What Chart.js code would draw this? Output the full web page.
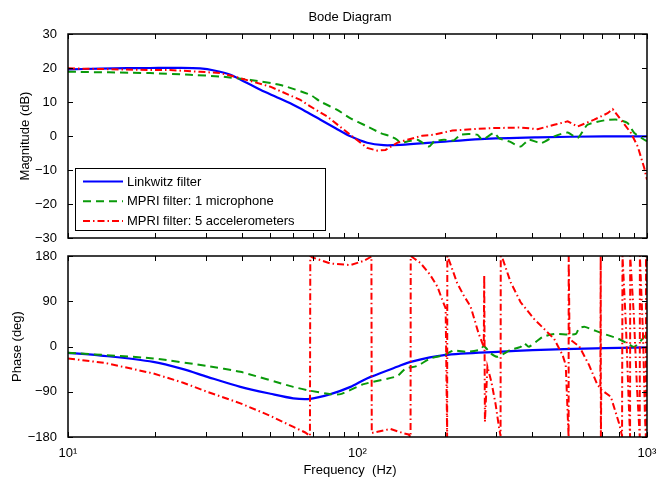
<!DOCTYPE html>
<html>
<head>
<meta charset="utf-8">
<script src="https://cdn.jsdelivr.net/npm/chart.js@4.4.1/dist/chart.umd.min.js"></script>
<style>
  html, body { margin: 0; padding: 0; background: #fff; }
  #wrap { position: relative; width: 659px; height: 479px; }
  canvas { position: absolute; left: 0; }
  #magChart { top: 0; }
  #phaseChart { top: 250px; }
</style>
</head>
<body>
<div id="wrap">
  <canvas id="magChart" width="659" height="250"></canvas>
  <canvas id="phaseChart" width="659" height="229"></canvas>
</div>
<script>
// values, frequency in Hz
const seriesNames = ["Linkwitz filter", "MPRI filter: 1 microphone", "MPRI filter: 5 accelerometers"];

const linkwitzMagFreq = [10, 12.9, 16, 19.2, 24, 28.6, 32.3, 36.4, 40.9, 46.2, 52, 58.6, 66, 74.5, 84, 94.6, 108, 123, 141, 184, 266, 419, 710, 1000];
const linkwitzMag = [19.6, 19.8, 19.95, 20.0, 20.05, 19.9, 19.2, 18.0, 15.9, 13.6, 11.6, 9.6, 7.3, 4.8, 2.3, -0.1, -2.0, -2.7, -2.6, -1.9, -0.9, -0.4, -0.1, -0.1];

const micMagFreq = [10, 19.2, 26.4, 33.6, 42.7, 54.2, 68.7, 74.5, 85.1, 94.6, 107, 120, 130, 137, 141, 148.6, 161, 176.6, 184, 199, 215, 227, 259, 270, 296, 308, 334, 366, 391, 430, 478, 532, 576, 623, 712, 792, 857, 904, 979, 1000];
const micMag = [18.9, 18.5, 18.0, 17.5, 16.5, 15.0, 12.1, 10.1, 7.7, 5.2, 3.0, 0.9, -0.1, -1.1, -2.1, -1.6, -1.1, -3.1, -1.6, -1.1, -1.3, 0.4, 0.4, -1.1, 0.9, -0.6, -1.6, -3.1, -1.1, -2.1, -0.1, 1.0, -0.6, 3.3, 4.6, 4.8, 3.8, 0.9, -1.1, -1.5];

const accelMagFreq = [10, 19.2, 22.5, 28.6, 33.6, 39.4, 50, 63.5, 68.7, 78.7, 94.6, 108, 117, 125, 137, 144.5, 167.5, 184, 212.7, 249.5, 288.6, 366, 419, 478, 532, 576, 657, 731, 761, 812, 880, 929, 979, 1000];
const accelMag = [19.9, 19.4, 19.4, 18.9, 18.5, 17.0, 14.5, 10.6, 8.7, 5.7, 0.3, -3.5, -4.3, -4.1, -2.0, -1.4, 0.1, 0.4, 1.6, 2.0, 2.3, 2.5, 2.0, 3.3, 4.3, 2.8, 4.8, 6.7, 7.9, 4.8, 0.9, -3.1, -9.5, -12.9];

const linkwitzPhaseFreq = [10, 13, 19.7, 25, 30.3, 39.4, 50, 60, 68.7, 80.7, 94.6, 104.8, 111, 137, 152.7, 199, 305, 516, 1000];
const linkwitzPhase = [-12.5, -18, -30.5, -45, -60.4, -80.3, -94, -103, -104, -94.8, -80.3, -67, -60.4, -40.4, -30.5, -17.1, -10.6, -5.2, -1.7];

const micPhaseFreq = [10, 19.7, 30.3, 39.4, 60, 68.7, 80.7, 87.4, 105, 137, 146.6, 160, 179, 199, 215, 240, 266, 273, 289, 305, 338, 366, 376, 391, 435, 478, 532, 568, 583, 610, 693, 792, 857, 904, 979, 1000];
const micPhase = [-12.5, -23.7, -39, -50.4, -80.3, -88, -94.8, -94.8, -74.9, -59, -43.7, -39, -23.7, -17.1, -8, -10.6, -6, 1, -14, -20.5, -6.5, -0.6, 7, -0.6, 18.7, 25, 24, 25, 36.7, 39, 27, 16, 6, -0.6, 19.3, 26];

// phase wraps at +/-180 are kept as consecutive samples
const accelPhaseFreq = [10, 13.5, 19.7, 25, 30.3, 39.4, 50, 60.1, 66, 68.5, 68.7, 70, 80.7, 94.6, 104.8, 111, 111.7, 112, 123, 130, 145, 150, 152.5, 152.7, 157, 165, 178, 188.8, 196.5, 201.6, 204, 204.3, 207, 221, 232.5, 246, 262, 273, 274, 275.5, 281, 290, 300, 308, 312, 312.5, 317, 338, 366, 407, 478, 511, 524, 536, 536.5, 540, 583.6, 631, 675, 690, 692, 693, 695, 750, 801, 820, 823, 846, 866, 874, 875, 901, 923, 944, 945, 968, 984, 991, 992, 1000];
const accelPhase = [-23.7, -33, -53.6, -72, -90.2, -113, -138, -160, -171, -178, 180, 177, 165, 162, 170, 178, 179, -172, -167, -164, -173, -175, -180, 180, 175, 166, 143, 119, 92, 76, -180, 180, 172, 126, 102, 79, 26, -1, 142, -150, -40, -70, -115, -160, -178, 180, 175, 128, 88, 55, 15, -17, -37, -180, 180, 15, 0, -37, -77, -82, 180, -180, -86, -100, -153, -178, 180, 40, -120, -180, 180, 60, -80, -180, 180, 30, -140, -180, 180, 120];

const magTicks = [-30, -20, -10, 0, 10, 20, 30];
const phaseTicks = [-180, -90, 0, 90, 180];
const decadeLabels = { 10: "10\u00B9", 100: "10\u00B2", 1000: "10\u00B3" };

const pts = (xs, ys) => xs.map((x, i) => ({ x: x, y: ys[i] }));
const minus = v => (v < 0 ? "\u2212" + Math.abs(v) : String(v));

const FONT = '"Liberation Sans", Arial, Helvetica, sans-serif';
Chart.defaults.font.family = FONT;
Chart.defaults.font.size = 13;
Chart.defaults.color = "#000";

const styles = [
  { borderColor: "#0000ff", borderWidth: 2.2, borderDash: [], order: 2, tension: 0.3 },
  { borderColor: "#0a9a0a", borderWidth: 2, borderDash: [8, 5], order: 1, tension: 0.2 },
  { borderColor: "#ff0000", borderWidth: 2, borderDash: [7, 3, 1.5, 3], order: 0, tension: 0 }
];

function makeSets(list) {
  return list.map((d, i) => Object.assign({
    label: seriesNames[i],
    data: d,
    pointRadius: 0,
    fill: false
  }, styles[i]));
}

// no extra room for half labels: the axes box is fixed
const noPad = s => { s.paddingTop = 0; s.paddingBottom = 0; s.paddingLeft = 0; s.paddingRight = 0; };

// box, inward ticks and free text in MATLAB style
const matlabAxes = {
  id: "matlabAxes",
  afterDatasetsDraw(chart, args, opts) {
    const { ctx, chartArea: a } = chart;
    const x = chart.scales.x, y = chart.scales.y;
    const tl = 5;
    ctx.save();
    ctx.strokeStyle = "#000";
    ctx.lineWidth = 1;
    ctx.setLineDash([]);
    ctx.beginPath();
    for (let d = 10; d <= 1000; d *= 10) {
      for (let m = 1; m < 10; m++) {
        const v = d * m;
        if (v > 1000) break;
        const px = Math.round(x.getPixelForValue(v)) + 0.5;
        ctx.moveTo(px, a.top); ctx.lineTo(px, a.top + tl);
        ctx.moveTo(px, a.bottom); ctx.lineTo(px, a.bottom - tl);
      }
    }
    for (const v of opts.yTicks) {
      const py = Math.round(y.getPixelForValue(v)) + 0.5;
      ctx.moveTo(a.left, py); ctx.lineTo(a.left + tl, py);
      ctx.moveTo(a.right, py); ctx.lineTo(a.right - tl, py);
    }
    ctx.stroke();
    ctx.lineWidth = 1.5;
    ctx.strokeRect(a.left, a.top, a.right - a.left, a.bottom - a.top);
    ctx.fillStyle = "#000";
    ctx.font = "13px " + FONT;
    ctx.textAlign = "center";
    ctx.textBaseline = "middle";
    for (const t of opts.texts || []) ctx.fillText(t.text, t.x, t.y);
    ctx.restore();
  }
};

// legend box drawn inside the axes
const boxLegend = {
  id: "boxLegend",
  afterDraw(chart, args, opts) {
    if (!opts.show) return;
    const { ctx } = chart;
    const sets = chart.data.datasets;
    ctx.save();
    ctx.fillStyle = "#fff";
    ctx.fillRect(opts.left, opts.top, opts.width, opts.height);
    ctx.strokeStyle = "#000";
    ctx.lineWidth = 1;
    ctx.strokeRect(opts.left + 0.5, opts.top + 0.5, opts.width, opts.height);
    ctx.font = "13px " + FONT;
    ctx.textBaseline = "middle";
    ctx.textAlign = "left";
    sets.forEach((s, i) => {
      const yy = opts.top + opts.firstRow + i * opts.rowH;
      ctx.strokeStyle = s.borderColor;
      ctx.lineWidth = s.borderWidth;
      ctx.setLineDash(s.borderDash || []);
      ctx.beginPath();
      ctx.moveTo(opts.left + 8, yy);
      ctx.lineTo(opts.left + 48, yy);
      ctx.stroke();
      ctx.setLineDash([]);
      ctx.fillStyle = "#000";
      ctx.fillText(s.label, opts.left + 52, yy + 0.5);
    });
    ctx.restore();
  }
};

function logX(extra) {
  return Object.assign({
    type: "logarithmic",
    min: 10,
    max: 1000,
    grid: { display: false, drawTicks: false },
    border: { display: false }
  }, extra);
}

new Chart(document.getElementById("magChart"), {
  type: "line",
  data: {
    datasets: makeSets([
      pts(linkwitzMagFreq, linkwitzMag),
      pts(micMagFreq, micMag),
      pts(accelMagFreq, accelMag)
    ])
  },
  options: {
    responsive: false,
    animation: false,
    events: [],
    layout: { padding: { top: 34, right: 12, left: 0, bottom: 0 } },
    plugins: {
      legend: { display: false },
      tooltip: { enabled: false },
      matlabAxes: { yTicks: magTicks, texts: [{ text: "Bode Diagram", x: 350, y: 17 }] },
      boxLegend: { show: true, left: 75, top: 168, width: 250, height: 62, firstRow: 13.5, rowH: 19.75 }
    },
    scales: {
      x: logX({ ticks: { display: false }, afterFit: s => { s.height = 12; noPad(s); } }),
      y: {
        min: -30, max: 30,
        afterBuildTicks: s => { s.ticks = magTicks.map(v => ({ value: v })); },
        ticks: { padding: 11, callback: v => minus(v) },
        grid: { display: false, drawTicks: false },
        border: { display: false },
        title: { display: true, text: "Magnitude (dB)", padding: { top: 18, bottom: 0 } },
        afterFit: s => { s.width = 68; noPad(s); }
      }
    }
  },
  plugins: [matlabAxes, boxLegend]
});

new Chart(document.getElementById("phaseChart"), {
  type: "line",
  data: {
    datasets: makeSets([
      pts(linkwitzPhaseFreq, linkwitzPhase),
      pts(micPhaseFreq, micPhase),
      pts(accelPhaseFreq, accelPhase)
    ])
  },
  options: {
    responsive: false,
    animation: false,
    events: [],
    layout: { padding: { top: 6, right: 12, left: 0, bottom: 0 } },
    plugins: {
      legend: { display: false },
      tooltip: { enabled: false },
      matlabAxes: { yTicks: phaseTicks, texts: [{ text: "Frequency  (Hz)", x: 350, y: 220 }] },
      boxLegend: { show: false }
    },
    scales: {
      x: logX({
        afterBuildTicks: s => { s.ticks = [10, 100, 1000].map(v => ({ value: v })); },
        ticks: { autoSkip: false, maxRotation: 0, padding: 9, callback: v => decadeLabels[v] || "" },
        afterFit: s => { s.height = 42; noPad(s); }
      }),
      y: {
        min: -180, max: 180,
        afterBuildTicks: s => { s.ticks = phaseTicks.map(v => ({ value: v })); },
        ticks: { padding: 11, callback: v => minus(v) },
        grid: { display: false, drawTicks: false },
        border: { display: false },
        title: { display: true, text: "Phase (deg)", padding: { top: 10, bottom: 0 } },
        afterFit: s => { s.width = 68; noPad(s); }
      }
    }
  },
  plugins: [matlabAxes, boxLegend]
});
</script>
</body>
</html>
